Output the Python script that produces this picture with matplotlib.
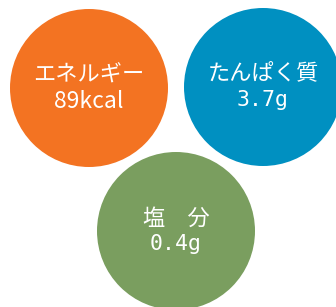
import matplotlib.pyplot as plt
from matplotlib.patches import Circle

plt.rcParams['font.family'] = ['Noto Sans CJK JP', 'DejaVu Sans']

names = ['エネルギー', 'たんぱく質', '塩　分']
amounts = ['89kcal', '3.7g', '0.4g']
colors = ['#f37322', '#0090c1', '#7a9e5f']

# layout (pixel space of the 336x307 canvas)
cx = [89, 263, 176]
cy = [88, 87, 231]
radius = 79
mono = [False, True, True]

fig = plt.figure(figsize=(3.36, 3.07), dpi=100)
ax = fig.add_axes([0, 0, 1, 1])
ax.set_xlim(0, 336)
ax.set_ylim(307, 0)
ax.set_aspect('equal')
ax.axis('off')

for i in range(len(names)):
    ax.add_patch(Circle((cx[i], cy[i]), radius, color=colors[i], lw=0))
    ax.text(cx[i], cy[i] - 13, names[i], color='white', fontsize=16,
            ha='center', va='center')
    if mono[i]:
        ax.text(cx[i], cy[i] + 13, amounts[i], color='white', fontsize=15.5,
                ha='center', va='center', family=['DejaVu Sans Mono'])
    else:
        ax.text(cx[i], cy[i] + 13, amounts[i], color='white', fontsize=16.5,
                ha='center', va='center')

fig.savefig('out.png', dpi=100)
